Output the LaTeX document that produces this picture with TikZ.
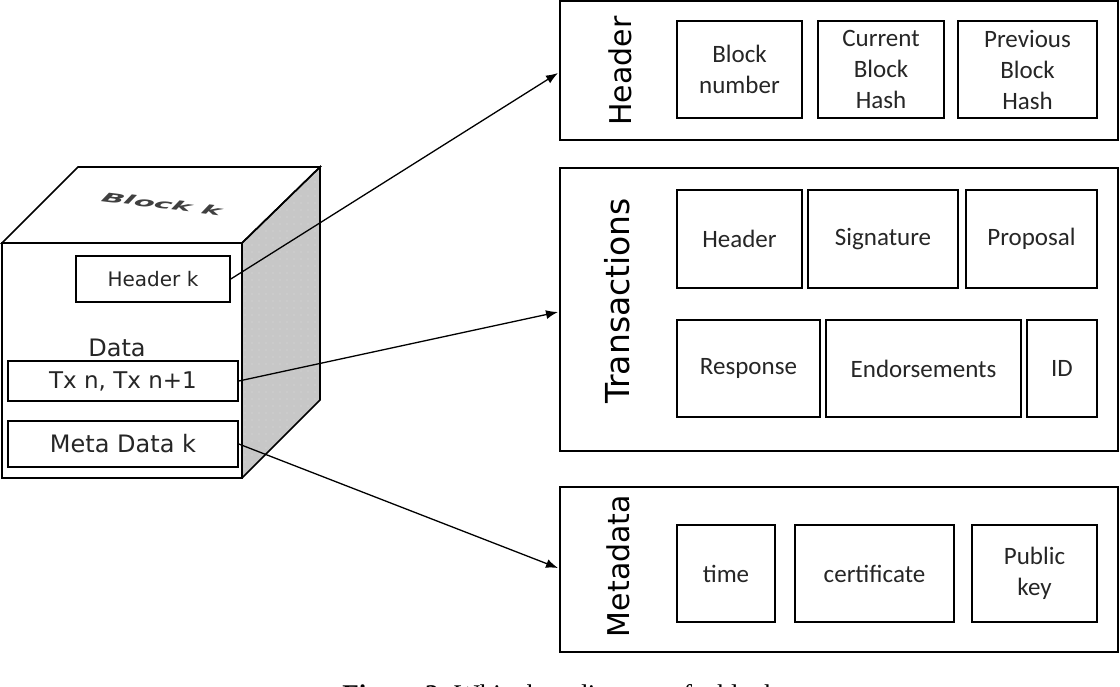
\documentclass[tikz,border=0pt]{standalone}
\usepackage{fontspec}
\setmainfont{DejaVu Sans}
\newfontfamily\carl{Carlito}
\newfontfamily\capfont{Liberation Serif}
\usetikzlibrary{arrows.meta,patterns.meta}
\tikzset{
  bigbox/.style={draw, line width=1.8pt, inner sep=0pt},
  inbox/.style={draw, line width=1.6pt, inner sep=0pt, align=center, font=\carl\fontsize{25}{31}\selectfont, text=black!85},
  cubebox/.style={draw, line width=1.6pt, fill=white, inner sep=0pt, text=black!85},
  vlabel/.style={rotate=90, inner sep=0pt, text=black},
  conn/.style={line width=1.3pt, -{Latex[length=12pt,width=9pt]}},
  cubeline/.style={line width=1.6pt, line join=miter}
}
\begin{document}
\begin{tikzpicture}[x=1pt,y=-1pt]
\path[use as bounding box, clip] (0,0) rectangle (1120,686);
\fill[white] (0,0) rectangle (1120,686);
% cube
\coordinate (fa) at (2,243);
\coordinate (fb) at (242,243);
\coordinate (fc) at (242,478);
\coordinate (fd) at (2,478);
\coordinate (ba) at (78,167);
\coordinate (bb) at (320,167);
\coordinate (bc) at (320,400);
\fill[black!22] (fb) -- (bb) -- (bc) -- (fc) -- cycle;
\fill[pattern={Dots[distance=7pt,radius=0.55pt]}, pattern color=white!85!black] (fb) -- (bb) -- (bc) -- (fc) -- cycle;
\draw[cubeline, fill=white] (fa) -- (ba) -- (bb) -- (fb) -- cycle;
\draw[cubeline] (fb) -- (bb) -- (bc) -- (fc);
\draw[cubeline, fill=white] (fa) rectangle (fc);
\begin{scope}[shift={(162,204)}, rotate=-7, xslant=0.3, xscale=1.85, yscale=0.8]
  \node[transform shape, inner sep=0pt, text=black!75, font=\fontsize{16}{18}\selectfont\bfseries\itshape] (blk) at (0,0) {Block k};
\end{scope}
\node[cubebox, minimum width=154pt, minimum height=46pt, font=\fontsize{20}{24}\selectfont] (hk) at (153,279) {Header k};
\node[inner sep=0pt, text=black!85, font=\fontsize{24}{28}\selectfont] (data) at (117,348) {Data};
\node[cubebox, minimum width=230pt, minimum height=40pt, font=\fontsize{23}{27}\selectfont] (tx) at (123,381) {Tx n, Tx n+1};
\node[cubebox, minimum width=230pt, minimum height=46pt, font=\fontsize{24}{28}\selectfont] (meta) at (123,444) {Meta Data k};
% right: header
\node[bigbox, minimum width=558pt, minimum height=139pt] (hdr) at (839,70.5) {};
\node[vlabel, font=\fontsize{30}{34}\selectfont] (hdrl) at (620,71) {Header};
\node[inbox, minimum width=125pt, minimum height=97pt] (bn) at (739.5,69.5) {Block\\number};
\node[inbox, minimum width=126pt, minimum height=97pt] (cbh) at (881,69.5) {Current\\Block\\Hash};
\node[inbox, minimum width=139pt, minimum height=97pt] (pbh) at (1027.5,69.5) {Previous\\Block\\Hash};
% right: transactions
\node[bigbox, minimum width=558pt, minimum height=283pt] (txb) at (839,309.5) {};
\node[vlabel, font=\fontsize{33}{37}\selectfont] (txl) at (617,301) {Transactions};
\node[inbox, minimum width=125pt, minimum height=98pt] (th) at (739.5,239) {Header};
\node[inbox, minimum width=150pt, minimum height=98pt] (sig) at (883,239) {Signature};
\node[inbox, minimum width=131pt, minimum height=98pt] (prop) at (1031.5,239) {Proposal};
\node[inbox, minimum width=143pt, minimum height=97pt] (resp) at (748.5,368.5) {Response};
\node[inbox, minimum width=195pt, minimum height=97pt] (endo) at (923.5,368.5) {Endorsements};
\node[inbox, minimum width=70pt, minimum height=97pt] (idb) at (1062,368.5) {ID};
% right: metadata
\node[bigbox, minimum width=558pt, minimum height=165pt] (mdb) at (839,569.5) {};
\node[vlabel, font=\fontsize{30}{34}\selectfont] (mdl) at (618,566) {Metadata};
\node[inbox, minimum width=98pt, minimum height=97pt] (time) at (726,573.5) {time};
\node[inbox, minimum width=159pt, minimum height=97pt] (cert) at (874.5,573.5) {certificate};
\node[inbox, minimum width=125pt, minimum height=97pt] (pk) at (1034.5,573.5) {Public\\key};
% connectors
\coordinate (e1) at (558,73);
\coordinate (e2) at (558,312);
\coordinate (e3) at (558,568);
\draw[conn] (hk.east) -- (e1);
\draw[conn] (tx.east) -- (e2);
\draw[conn] (meta.east) -- (e3);
% caption (cut off at the bottom edge, as in the reference)
\node[anchor=base, inner sep=0pt, font=\capfont\fontsize{27}{30}\selectfont] (cap) at (560,703) {\textbf{Figure 2.} White box diagram of a block};
\end{tikzpicture}
\end{document}
